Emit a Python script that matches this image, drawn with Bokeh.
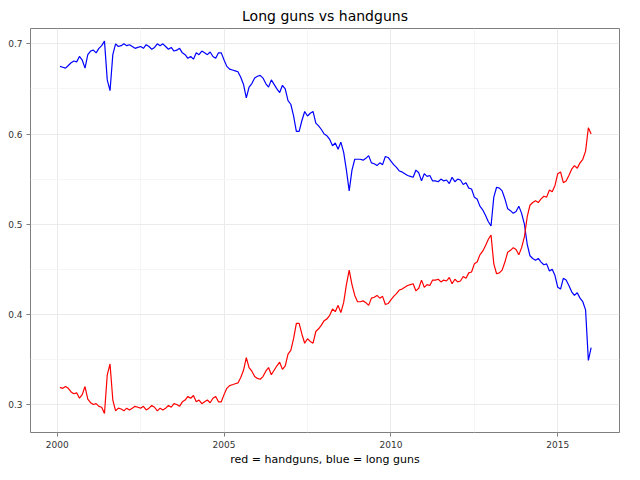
from bokeh.plotting import figure
from bokeh.models import Range1d, FixedTicker
from bokeh.embed import file_html
from bokeh.resources import INLINE

start_year = 2000
long_guns = [
    0.675, 0.674, 0.673, 0.676, 0.679, 0.681, 0.680, 0.686, 0.682, 0.673, 0.688, 0.692,
    0.693, 0.690, 0.695, 0.698, 0.703, 0.660, 0.648, 0.688, 0.700, 0.697, 0.698, 0.700,
    0.698, 0.699, 0.697, 0.695, 0.696, 0.697, 0.695, 0.699, 0.697, 0.694, 0.696, 0.700,
    0.698, 0.700, 0.697, 0.694, 0.696, 0.692, 0.693, 0.695, 0.690, 0.688, 0.684, 0.686,
    0.683, 0.690, 0.688, 0.692, 0.690, 0.688, 0.691, 0.686, 0.684, 0.690, 0.690, 0.682,
    0.675, 0.672, 0.671, 0.670, 0.669, 0.663, 0.655, 0.640, 0.652, 0.656, 0.662, 0.664,
    0.665, 0.662, 0.656, 0.652, 0.660, 0.655, 0.650, 0.646, 0.654, 0.650, 0.637, 0.633,
    0.620, 0.603, 0.603, 0.615, 0.625, 0.620, 0.623, 0.625, 0.612, 0.609, 0.605, 0.600,
    0.598, 0.594, 0.587, 0.590, 0.583, 0.591, 0.580, 0.560, 0.537, 0.560, 0.572, 0.572,
    0.572, 0.571, 0.573, 0.576, 0.568, 0.567, 0.565, 0.568, 0.566, 0.575, 0.574, 0.570,
    0.566, 0.563, 0.559, 0.558, 0.556, 0.554, 0.553, 0.552, 0.560, 0.557, 0.548, 0.556,
    0.553, 0.554, 0.548, 0.548, 0.547, 0.550, 0.548, 0.549, 0.545, 0.552, 0.547, 0.550,
    0.549, 0.544, 0.546, 0.540, 0.539, 0.530, 0.528, 0.520, 0.516, 0.510, 0.503, 0.498,
    0.530, 0.541, 0.540, 0.537, 0.528, 0.517, 0.515, 0.512, 0.514, 0.520, 0.512, 0.500,
    0.478, 0.465, 0.462, 0.460, 0.462, 0.458, 0.455, 0.456, 0.448, 0.450, 0.443, 0.430,
    0.428, 0.440, 0.438, 0.432, 0.425, 0.421, 0.424, 0.418, 0.414, 0.405, 0.349, 0.363,
]
handguns = [
    0.319, 0.318, 0.320, 0.318, 0.314, 0.312, 0.313, 0.307, 0.311, 0.320, 0.306, 0.302,
    0.300, 0.301, 0.298, 0.297, 0.290, 0.333, 0.345, 0.305, 0.293, 0.296, 0.295, 0.293,
    0.296, 0.294, 0.296, 0.298, 0.297, 0.296, 0.298, 0.294, 0.296, 0.299, 0.297, 0.293,
    0.296, 0.294, 0.296, 0.299, 0.297, 0.301, 0.300, 0.298, 0.303, 0.305, 0.309, 0.307,
    0.310, 0.303, 0.305, 0.301, 0.303, 0.305, 0.302, 0.307, 0.309, 0.303, 0.303, 0.311,
    0.318, 0.321, 0.322, 0.323, 0.324, 0.330, 0.338, 0.352, 0.341, 0.337, 0.331, 0.329,
    0.328, 0.331, 0.337, 0.341, 0.333, 0.338, 0.343, 0.347, 0.339, 0.343, 0.356, 0.360,
    0.373, 0.390, 0.390, 0.378, 0.368, 0.373, 0.370, 0.368, 0.381, 0.384, 0.388, 0.393,
    0.395, 0.399, 0.406, 0.403, 0.410, 0.402, 0.413, 0.433, 0.449, 0.433, 0.421, 0.414,
    0.414, 0.415, 0.413, 0.410, 0.418, 0.419, 0.421, 0.418, 0.420, 0.411, 0.412, 0.416,
    0.420, 0.423, 0.427, 0.428, 0.430, 0.432, 0.433, 0.434, 0.426, 0.429, 0.438, 0.430,
    0.433, 0.432, 0.438, 0.438, 0.439, 0.436, 0.438, 0.437, 0.441, 0.434, 0.439, 0.436,
    0.437, 0.442, 0.440, 0.446, 0.447, 0.456, 0.458, 0.466, 0.470, 0.476, 0.483, 0.488,
    0.456, 0.445, 0.446, 0.449, 0.458, 0.469, 0.471, 0.474, 0.472, 0.466, 0.474, 0.486,
    0.508, 0.521, 0.524, 0.526, 0.524, 0.528, 0.531, 0.530, 0.538, 0.536, 0.543, 0.556,
    0.558, 0.546, 0.548, 0.554, 0.561, 0.565, 0.562, 0.568, 0.572, 0.581, 0.607, 0.600,
]
months = [start_year + (i + 1) / 12 for i in range(len(long_guns))]

p = figure(width=624, height=468, output_backend="svg", toolbar_location=None,
           title="Long guns vs handguns",
           x_range=Range1d(1999.2, 2016.85), y_range=Range1d(0.269, 0.717))
p.title.align = "center"
p.title.text_font = "DejaVu Sans"
p.title.text_font_style = "normal"
p.title.text_font_size = "14px"
p.title.text_color = "black"
p.min_border_left = 30
p.min_border_right = 5
p.min_border_bottom = 0
p.min_border_top = 0
p.outline_line_color = "#7f7f7f"

p.line(months, long_guns, color="blue", line_width=1.2)
p.line(months, handguns, color="red", line_width=1.2)

p.xaxis.ticker = FixedTicker(ticks=[2000, 2005, 2010, 2015],
                             minor_ticks=[2002.5, 2007.5, 2012.5])
p.yaxis.ticker = FixedTicker(ticks=[0.3, 0.4, 0.5, 0.6, 0.7],
                             minor_ticks=[0.35, 0.45, 0.55, 0.65])
p.xaxis.axis_label = "red = handguns, blue = long guns"
p.xaxis.axis_label_text_font_style = "normal"
p.xaxis.axis_label_text_font_size = "11px"
p.xaxis.axis_label_text_color = "black"
p.xaxis.axis_label_standoff = 2
for ax in (p.xaxis, p.yaxis):
    ax.axis_line_color = None
    ax.minor_tick_line_color = None
    ax.major_tick_line_color = "#7f7f7f"
    ax.major_tick_out = 4
    ax.major_tick_in = 0
    ax.major_label_standoff = 4
    ax.major_label_text_font_size = "9px"
    ax.major_label_text_color = "#333333"
    ax.axis_label_text_font = "DejaVu Sans"
    ax.major_label_text_font = "DejaVu Sans"
for g in (p.xgrid, p.ygrid):
    g.grid_line_color = "#ebebeb"
    g.minor_grid_line_color = "#f5f5f5"

open("out.html", "w").write(file_html(p, INLINE))
